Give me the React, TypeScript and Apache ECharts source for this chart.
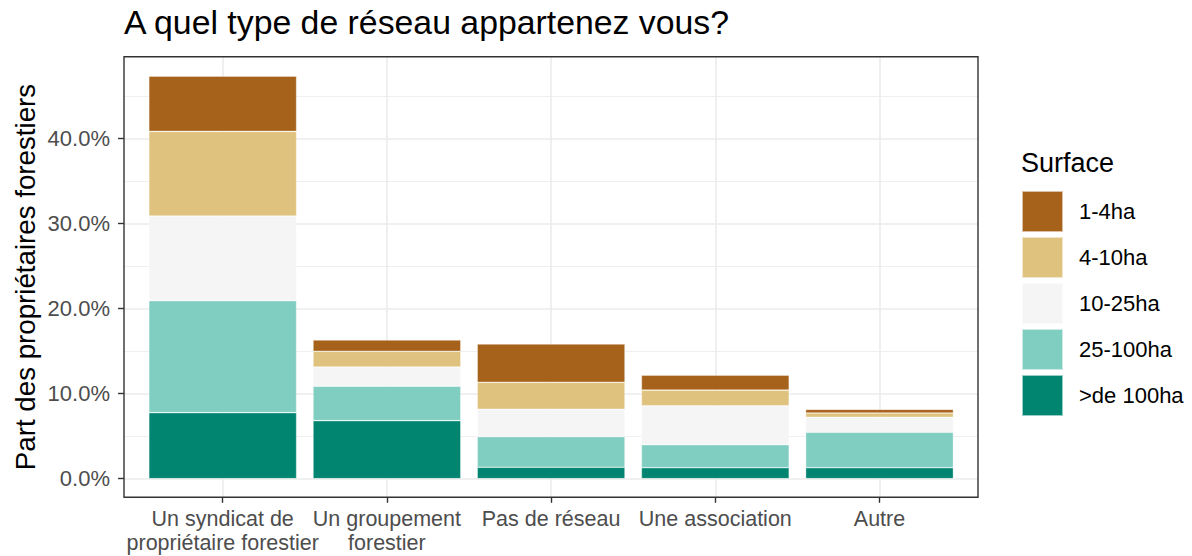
import React, { useEffect, useRef } from 'react';
import * as echarts from 'echarts';

const categories = [
  'Un syndicat de\npropriétaire forestier',
  'Un groupement\nforestier',
  'Pas de réseau',
  'Une association',
  'Autre',
];
// stacking order: bottom to top
const surfaces = ['>de 100ha', '25-100ha', '10-25ha', '4-10ha', '1-4ha'];
const legendOrder = ['1-4ha', '4-10ha', '10-25ha', '25-100ha', '>de 100ha'];
const valsOver100 = [7.76, 6.82, 1.34, 1.29, 1.29];
const vals25to100 = [13.16, 4.04, 3.6, 2.7, 4.16];
const vals10to25 = [9.95, 2.27, 3.22, 4.58, 1.76];
const vals4to10 = [9.95, 1.84, 3.17, 1.84, 0.51];
const vals1to4 = [6.5, 1.33, 4.5, 1.76, 0.43];
const seriesValues = [valsOver100, vals25to100, vals10to25, vals4to10, vals1to4];
const seriesColors = ['#018571', '#80CDC1', '#F5F5F5', '#DFC27D', '#A6611A'];
const majorTicks = [0, 10, 20, 30, 40];
const minorTicks = [5, 15, 25, 35, 45];
const yMin = -2.19;
const yMax = 49.6;

const FONT = '"Liberation Sans", Arial, sans-serif';

export default function App() {
  const ref = useRef<HTMLDivElement>(null);
  useEffect(() => {
    if (!ref.current) return;
    const chart = echarts.init(ref.current, undefined, { renderer: 'svg' });
    const panel = { left: 124, right: 214, top: 56.7, bottom: 58.7 };
    const firstLines = categories.map((c) => c.split('\n')[0]);
    const secondLines = categories.map((c) => c.split('\n')[1] || '');
    const labelAxis = (lines: string[], margin: number, showTick: boolean) => ({
      gridIndex: 1,
      type: 'category',
      data: lines,
      position: 'bottom',
      axisLine: { show: false, onZero: false },
      axisTick: {
        show: showTick,
        alignWithLabel: true,
        length: 5.5,
        lineStyle: { color: '#333333', width: 1.4 },
      },
      axisLabel: {
        fontSize: 21.5,
        color: '#4D4D4D',
        margin,
        fontFamily: FONT,
        interval: 0,
      },
      splitLine: { show: false },
    });
    const option: any = {
      animation: false,
      backgroundColor: '#ffffff',
      textStyle: { fontFamily: FONT },
      title: [
        {
          text: 'A quel type de réseau appartenez vous?',
          left: 124,
          top: 5,
          padding: 0,
          textStyle: { fontSize: 33.8, fontWeight: 'normal', color: '#000000', fontFamily: FONT },
        },
        {
          text: 'Surface',
          left: 1021,
          top: 149,
          padding: 0,
          textStyle: { fontSize: 27, fontWeight: 'normal', color: '#000000', fontFamily: FONT },
        },
      ],
      legend: {
        orient: 'vertical',
        left: 1021,
        top: 190,
        padding: 0,
        itemWidth: 41,
        itemHeight: 41,
        itemGap: 3,
        icon: 'rect',
        data: legendOrder,
        selectedMode: false,
        textStyle: { fontSize: 22, color: '#000000', fontFamily: FONT, padding: [0, 0, 0, 11] },
      },
      graphic: [
        {
          type: 'text',
          x: 25,
          y: 277,
          rotation: Math.PI / 2,
          style: {
            text: 'Part des propriétaires forestiers',
            fontSize: 27.7,
            fontFamily: FONT,
            fill: '#000000',
            textAlign: 'center',
            textVerticalAlign: 'middle',
          },
        },
      ],
      grid: [
        {
          ...panel,
          show: true,
          borderColor: '#333333',
          borderWidth: 1.4,
          backgroundColor: 'rgba(0,0,0,0)',
          z: 10,
        },
        { left: 140.6, right: 230.4, top: 56.7, bottom: 58.7 },
      ],
      xAxis: [
        { gridIndex: 0, type: 'value', min: 0, max: 1, show: false, position: 'bottom' },
        {
          gridIndex: 1,
          type: 'category',
          data: categories,
          position: 'bottom',
          axisLine: { show: false, onZero: false },
          axisTick: {
            show: true,
            inside: true,
            alignWithLabel: true,
            length: 440.6,
            lineStyle: { color: '#EBEBEB', width: 1.6 },
          },
          axisLabel: { show: false },
          splitLine: { show: false },
        },
        labelAxis(firstLines, 11, true),
        labelAxis(secondLines, 35, false),
      ],
      yAxis: [
        {
          gridIndex: 0,
          type: 'value',
          min: yMin,
          max: yMax,
          position: 'left',
          axisLine: { show: false, onZero: false },
          axisLabel: { show: false },
          splitLine: { show: false },
          axisTick: {
            show: true,
            inside: true,
            length: 854,
            customValues: minorTicks,
            lineStyle: { color: '#EBEBEB', width: 0.8 },
          },
        },
        {
          gridIndex: 0,
          type: 'value',
          min: yMin,
          max: yMax,
          position: 'left',
          axisLine: { show: false, onZero: false },
          axisLabel: { show: false },
          splitLine: { show: false },
          axisTick: {
            show: true,
            inside: true,
            length: 854,
            customValues: majorTicks,
            lineStyle: { color: '#EBEBEB', width: 1.6 },
          },
        },
        {
          gridIndex: 0,
          type: 'value',
          min: yMin,
          max: yMax,
          position: 'left',
          axisLine: { show: false, onZero: false },
          splitLine: { show: false },
          axisTick: {
            show: true,
            length: 6,
            customValues: majorTicks,
            lineStyle: { color: '#333333', width: 1.4 },
          },
          axisLabel: {
            customValues: majorTicks,
            formatter: (v: number) => v.toFixed(1) + '%',
            fontSize: 22,
            color: '#4D4D4D',
            margin: 14,
            fontFamily: FONT,
          },
        },
        {
          gridIndex: 1,
          type: 'value',
          min: yMin,
          max: yMax,
          show: false,
          position: 'left',
          splitLine: { show: false },
        },
      ],
      series: surfaces.map((name, i) => ({
        name,
        type: 'bar',
        stack: 'total',
        xAxisIndex: 2,
        yAxisIndex: 3,
        barWidth: '90%',
        data: seriesValues[i],
        itemStyle: {
          color: seriesColors[i],
          borderColor: 'rgba(255,255,255,0.6)',
          borderWidth: 0.6,
        },
      })),
    };
    chart.setOption(option);
    return () => chart.dispose();
  }, []);
  return (
    <div
      ref={ref}
      style={{ position: 'absolute', left: 0, top: 0, width: 1192, height: 556 }}
    />
  );
}
